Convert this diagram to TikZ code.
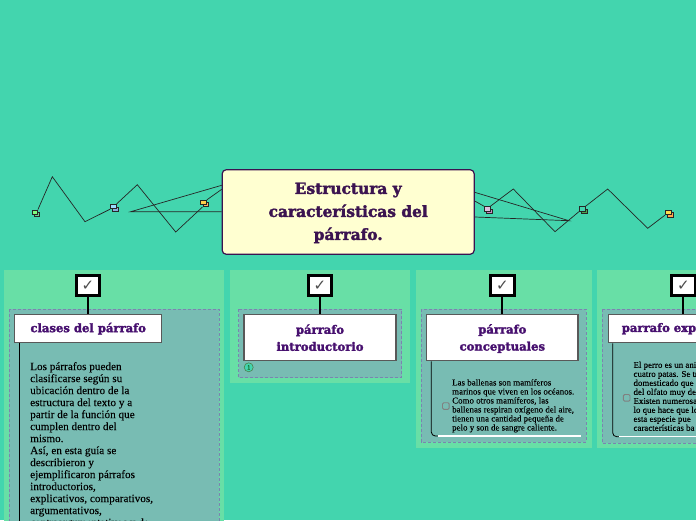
\documentclass[tikz,border=0pt]{standalone}
\usepackage{xcolor}
\usepackage{fontspec}
\setmainfont{DejaVu Serif}
\newfontfamily\headfont[FakeBold=2.2]{DejaVu Serif Bold}
\newfontfamily\bodyfont[FakeBold=0.1]{Liberation Serif}
\newfontfamily\checkfont{DejaVu Sans}
\definecolor{bgteal}{HTML}{43D5AE}
\definecolor{panelgreen}{HTML}{68DFA6}
\definecolor{innerteal}{HTML}{78BCB3}
\definecolor{dashblue}{HTML}{7B84B0}
\definecolor{darkplum}{HTML}{3B1350}
\definecolor{titleplum}{HTML}{47106F}
\definecolor{creamy}{HTML}{FFFFD1}
\tikzset{
  panelbox/.style={fill=panelgreen,draw=none},
  innerbox/.style={fill=innerteal,draw=dashblue,dash pattern=on 3pt off 2pt,line width=0.8pt},
  titlebox/.style={draw=black!65,fill=white,line width=1.2pt,inner sep=0pt,text=titleplum,align=center,font=\headfont\fontsize{11.6}{17}\selectfont},
  checkbox/.style={draw=black,fill=white,line width=3pt,minimum width=23.5pt,minimum height=20pt,inner sep=0pt,text=black!70,font=\checkfont\fontsize{15}{15}\selectfont},
  smallicon/.style={draw=black!85,line width=0.9pt,minimum width=5.5pt,minimum height=4.3pt,inner sep=0pt},
  zigzag/.style={draw=black!85,line width=0.7pt},
  tickbox/.style={draw=black!50,fill=innerteal,line width=0.9pt,rounded corners=1.2pt,minimum size=6.6pt,inner sep=0pt},
  bodytext/.style={anchor=north west,inner sep=0pt,align=left,text=black},
}
\begin{document}
\begin{tikzpicture}[x=1pt,y=-1pt]
\clip (0,0) rectangle (696,520);
\fill[bgteal] (0,0) rectangle (696,520);
% panels
\draw[panelbox] (4,270) rectangle (224,525);
\draw[panelbox] (230,270) rectangle (410,382.7);
\draw[panelbox] (416,270) rectangle (592,447.7);
\draw[panelbox] (597,270) rectangle (700,448);
\draw[innerbox] (9,309.3) rectangle (219.3,525);
\draw[innerbox] (238.7,309.3) rectangle (401.7,377.7);
\draw[innerbox] (421,309.3) rectangle (586.3,442);
\draw[innerbox] (602,309.3) rectangle (700,443);
% central topic
\node[draw=darkplum,fill=creamy,line width=1.2pt,rounded corners=4pt,minimum width=252pt,minimum height=84.5pt,inner sep=0pt,align=center,text=darkplum,font=\headfont\fontsize{15.4}{23}\selectfont] (topic) at (348.2,212) {\rule{0pt}{13pt}Estructura y\\características del\\párrafo.};
% small icons
\node[smallicon,fill=green!45!teal!60] (iconAb) at (37,214.6) {};
\node[smallicon,fill=green!50!white] (iconAa) at (34.7,212.2) {};
\node[smallicon,fill=blue!45!teal!45] (iconBb) at (115.5,209.3) {};
\node[smallicon,fill=blue!35!cyan!40] (iconBa) at (113.3,206.6) {};
\node[smallicon,fill=orange!60] (iconCb) at (205.8,204.3) {};
\node[smallicon,fill=orange!55!yellow!70] (iconCa) at (203.6,202.5) {};
\node[smallicon,fill=violet!45] (iconDb) at (489.5,211.3) {};
\node[smallicon,fill=violet!25] (iconDa) at (487.2,208.8) {};
\node[smallicon,fill=green!50!black!70] (iconEb) at (584.5,211.3) {};
\node[smallicon,fill=bgteal] (iconEa) at (582.2,209) {};
\node[smallicon,fill=orange!70] (iconFb) at (670.5,215) {};
\node[smallicon,fill=yellow!70!orange!70] (iconFa) at (668.2,212.5) {};
\coordinate (leftA) at (221.7,189.3);
\coordinate (leftB) at (221.7,185.3);
\coordinate (leftC) at (221.5,211.7);
\coordinate (leftfork) at (130.7,211.7);
\coordinate (rightA) at (474.7,192.3);
\coordinate (rightB) at (475,217);
\coordinate (rightC) at (474.7,201);
\coordinate (rightfork) at (569,220.7);
% connectors on the left
\draw[zigzag] (iconAa.north east) -- (52.3,176.7) -- (85,221.7) -- (iconBa.south west);
\draw[zigzag] (iconBa.north east) -- (137.3,184.7) -- (175.7,232) -- (iconCb.south west);
\draw[zigzag] (iconCa.north east) -- (leftA);
\draw[zigzag] (leftB) -- (leftfork) -- (leftC);
% connectors on the right
\draw[zigzag] (rightC) -- (iconDa.north west);
\draw[zigzag] (iconDa.north east) -- (513.3,189) -- (555,231.7) -- (iconEa.south west);
\draw[zigzag] (iconEa.north east) -- (607.7,189) -- (647.7,228.3) -- (iconFa.south west);
\draw[zigzag] (rightA) -- (rightfork) -- (rightB);
% title boxes
\node[titlebox,minimum width=147pt,minimum height=28pt] (clases) at (88.2,328.7) {clases del párrafo};
\node[titlebox,minimum width=152pt,minimum height=46pt] (intro) at (320,337.7) {párrafo\\introductorio};
\node[titlebox,minimum width=151.3pt,minimum height=46pt] (concept) at (502.3,337.7) {\rule{0pt}{11pt}párrafo\\conceptuales};
\node[titlebox,anchor=west,minimum width=129pt,minimum height=28pt,text width=102pt,align=left] (expl) at (607.7,328.7) {parrafo exp};
% checks
\node[checkbox] (checkA) at (88,285.4) {✓};
\node[checkbox] (checkB) at (320,285.4) {✓};
\node[checkbox] (checkC) at (502.3,285.4) {✓};
\node[checkbox] (checkD) at (683.3,285.4) {✓};
\draw[line width=2.2pt] (checkA) -- (clases.north -| checkA);
\draw[line width=2.2pt] (checkB) -- (intro);
\draw[line width=2.2pt] (checkC) -- (concept);
\draw[line width=2.2pt] (checkD) -- (expl.north -| checkD);
% branches under the titles
\coordinate (branchA) at (19.3,525);
\coordinate (branchC) at (431.3,436);
\coordinate (branchCend) at (581.3,436);
\coordinate (branchD) at (612.7,436.7);
\coordinate (branchDend) at (700,436.7);
\draw[line width=0.8pt] (clases.south west -| branchA) -- (branchA);
\draw[line width=0.8pt,rounded corners=4pt] (concept.south west -| branchC) -- (branchC) -- (438,436);
\draw[white,line width=1.1pt] (438,436) -- (branchCend);
\draw[line width=0.8pt,rounded corners=4pt] (expl.south west -| branchD) -- (branchD) -- (619,436.7);
\draw[white,line width=1.1pt] (619,436.7) -- (branchDend);
% texts
\node[bodytext,font=\bodyfont\fontsize{11.2}{12}\selectfont] (clasestext) at (30,362) {Los párrafos pueden\\clasificarse según su\\ubicación dentro de la\\estructura del texto y a\\partir de la función que\\cumplen dentro del\\mismo.\\Así, en esta guía se\\describieron y\\ejemplificaron párrafos\\introductorios,\\explicativos, comparativos,\\argumentativos,\\contraargumentativos y de};
\node[bodytext,font=\bodyfont\fontsize{8.9}{9}\selectfont] (concepttext) at (452,379) {Las ballenas son mamíferos\\marinos que viven en los océanos.\\Como otros mamíferos, las\\ballenas respiran oxígeno del aire,\\tienen una cantidad pequeña de\\pelo y son de sangre caliente.};
\node[bodytext,font=\bodyfont\fontsize{8.9}{9}\selectfont] (expltext) at (633.3,361.5) {El perro es un ani\\cuatro patas. Se tr\\domesticado que\\del olfato muy de\\Existen numerosas\\lo que hace que lo\\esta especie pue\\características ba};
\node[tickbox] (tickC) at (445.8,406) {};
\node[tickbox] (tickD) at (626.7,397.8) {};
\node[circle,draw=green!30!black!70,fill=bgteal,line width=0.6pt,minimum size=9pt,inner sep=0pt,font=\bodyfont\fontsize{6}{6}\selectfont,text=green!30!black] (note) at (248.7,367.3) {1};
\end{tikzpicture}
\end{document}
